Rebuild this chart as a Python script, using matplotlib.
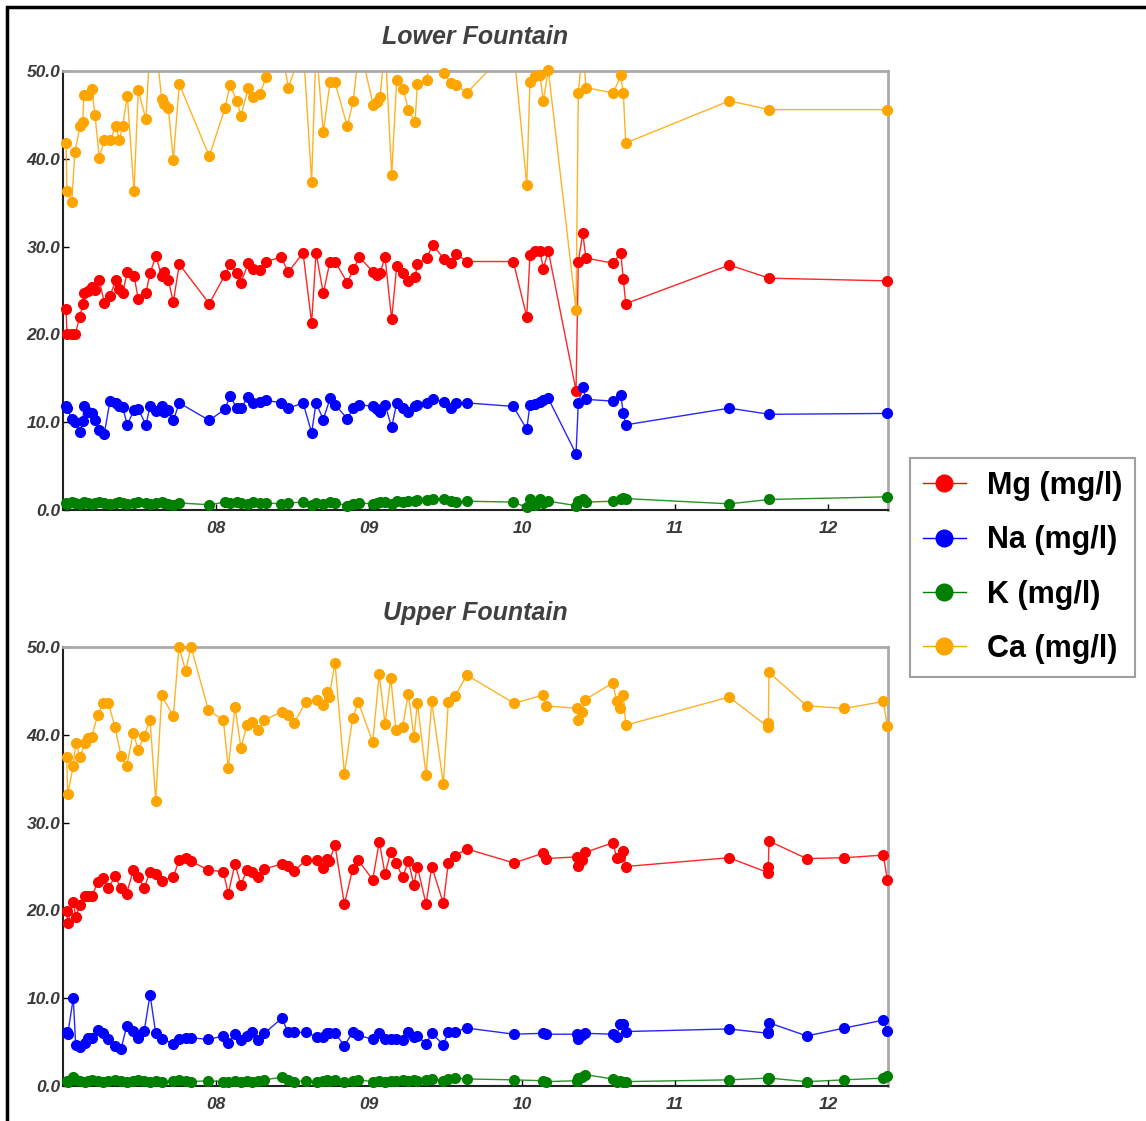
import numpy as np
import matplotlib.pyplot as plt
from matplotlib.patches import Rectangle

plt.rcParams['font.family'] = ['Liberation Sans', 'DejaVu Sans']

# Lower Fountain samples (decimal year, mg/l)
lf_date = [2007.020, 2007.026, 2007.057, 2007.078, 2007.111, 2007.129, 2007.137, 2007.165, 2007.188, 2007.209,
           2007.237, 2007.270, 2007.307, 2007.346, 2007.368, 2007.390, 2007.420, 2007.464, 2007.492, 2007.542,
           2007.569, 2007.608, 2007.645, 2007.660, 2007.688, 2007.721, 2007.760, 2007.956, 2008.059, 2008.092,
           2008.135, 2008.163, 2008.211, 2008.244, 2008.288, 2008.327, 2008.425, 2008.473, 2008.569, 2008.625,
           2008.654, 2008.701, 2008.745, 2008.778, 2008.858, 2008.897, 2008.937, 2009.028, 2009.050, 2009.072,
           2009.105, 2009.148, 2009.181, 2009.224, 2009.257, 2009.301, 2009.316, 2009.377, 2009.416, 2009.490,
           2009.534, 2009.569, 2009.639, 2009.943, 2010.031, 2010.052, 2010.085, 2010.118, 2010.139, 2010.172,
           2010.353, 2010.368, 2010.397, 2010.418, 2010.597, 2010.645, 2010.662, 2010.678, 2011.355, 2011.616,
           2012.385]
lf_mg = [22.9, 20.0, 20.0, 20.0, 22.0, 23.5, 24.7, 24.9, 25.4, 25.1,
         26.2, 23.6, 24.4, 26.2, 25.2, 24.7, 27.1, 26.7, 24.0, 24.7,
         27.0, 28.9, 26.6, 27.1, 26.2, 23.7, 28.0, 23.5, 26.8, 28.0,
         27.0, 25.9, 28.1, 27.4, 27.3, 28.3, 28.8, 27.1, 29.3, 21.3,
         29.3, 24.7, 28.3, 28.3, 25.9, 27.4, 28.8, 27.1, 26.8, 27.0,
         28.8, 21.7, 27.8, 27.0, 26.1, 26.5, 28.0, 28.7, 30.2, 28.6,
         28.1, 29.2, 28.3, 28.3, 22.0, 29.0, 29.5, 29.5, 27.5, 29.5,
         13.6, 28.3, 31.5, 28.7, 28.1, 29.3, 26.3, 23.5, 27.9, 26.4,
         26.1]
lf_na = [11.8, 11.6, 10.4, 10.0, 8.9, 10.1, 11.8, 11.2, 11.0, 10.3,
         9.1, 8.7, 12.4, 12.2, 11.8, 11.7, 9.7, 11.4, 11.5, 9.7,
         11.8, 11.3, 11.8, 11.2, 11.4, 10.2, 12.2, 10.2, 11.5, 13.0,
         11.6, 11.6, 12.9, 12.2, 12.3, 12.5, 12.2, 11.6, 12.2, 8.8,
         12.2, 10.3, 12.7, 12.0, 10.4, 11.6, 12.0, 11.8, 11.5, 11.2,
         12.0, 9.4, 12.2, 11.6, 11.2, 11.8, 12.0, 12.2, 12.6, 12.3,
         11.6, 12.2, 12.2, 11.8, 9.2, 12.0, 12.1, 12.3, 12.5, 12.7,
         6.4, 12.2, 14.0, 12.6, 12.4, 13.1, 11.1, 9.7, 11.6, 10.9,
         11.0]
lf_k = [0.8, 0.7, 0.9, 0.8, 0.7, 0.8, 0.9, 0.8, 0.7, 0.8,
        0.9, 0.8, 0.7, 0.8, 0.9, 0.8, 0.7, 0.8, 0.9, 0.8,
        0.7, 0.8, 0.9, 0.8, 0.7, 0.6, 0.8, 0.6, 0.9, 0.8,
        0.9, 0.8, 0.7, 0.9, 0.8, 0.8, 0.7, 0.8, 0.9, 0.6,
        0.8, 0.7, 0.9, 0.8, 0.5, 0.7, 0.8, 0.7, 0.8, 0.9,
        0.9, 0.7, 1.0, 0.9, 1.0, 1.0, 1.1, 1.1, 1.2, 1.3,
        1.0, 0.9, 1.0, 0.9, 0.3, 1.2, 0.6, 1.3, 0.8, 1.0,
        0.5, 1.0, 1.2, 0.9, 1.0, 1.2, 1.4, 1.3, 0.7, 1.2,
        1.5]
lf_ca = [41.8, 36.3, 35.1, 40.8, 43.7, 44.2, 47.3, 47.3, 48.0, 45.0,
         40.1, 42.1, 42.1, 43.7, 42.1, 43.7, 47.2, 36.3, 47.8, 44.5,
         53.0, 53.0, 46.8, 46.2, 45.8, 39.9, 48.5, 40.3, 45.8, 48.4,
         46.6, 44.9, 48.1, 47.0, 47.4, 49.3, 53.0, 48.1, 53.0, 37.4,
         53.0, 43.0, 48.7, 48.7, 43.7, 46.6, 53.0, 46.1, 46.5, 47.0,
         53.0, 38.2, 49.0, 47.9, 45.6, 44.2, 48.5, 49.0, 53.0, 49.8,
         48.6, 48.4, 47.5, 53.0, 37.0, 48.8, 49.4, 49.5, 46.6, 50.1,
         22.8, 47.5, 53.0, 48.1, 47.5, 49.5, 47.5, 41.8, 46.6, 45.6,
         45.6]

# Upper Fountain samples
uf_date = [2007.024, 2007.031, 2007.067, 2007.083, 2007.111, 2007.144, 2007.165, 2007.188, 2007.227, 2007.263,
           2007.296, 2007.340, 2007.379, 2007.416, 2007.459, 2007.492, 2007.531, 2007.569, 2007.606, 2007.645,
           2007.721, 2007.758, 2007.802, 2007.837, 2007.950, 2008.048, 2008.080, 2008.124, 2008.163, 2008.201,
           2008.237, 2008.276, 2008.316, 2008.429, 2008.473, 2008.512, 2008.586, 2008.658, 2008.701, 2008.724,
           2008.739, 2008.778, 2008.839, 2008.893, 2008.930, 2009.024, 2009.067, 2009.105, 2009.142, 2009.176,
           2009.220, 2009.257, 2009.294, 2009.316, 2009.373, 2009.410, 2009.486, 2009.518, 2009.562, 2009.639,
           2009.948, 2010.135, 2010.157, 2010.361, 2010.368, 2010.390, 2010.412, 2010.593, 2010.619, 2010.641,
           2010.662, 2010.678, 2011.353, 2011.608, 2011.610, 2011.614, 2011.861, 2012.107, 2012.361, 2012.388]
uf_mg = [19.9, 18.6, 21.0, 19.3, 20.6, 21.6, 21.6, 21.6, 23.2, 23.7,
         22.5, 23.9, 22.5, 21.9, 24.6, 23.8, 22.6, 24.4, 24.2, 23.4,
         23.8, 25.7, 26.0, 25.6, 24.6, 24.4, 21.9, 25.3, 22.9, 24.6,
         24.4, 23.8, 24.7, 25.3, 25.1, 24.5, 25.7, 25.7, 24.8, 25.9,
         25.6, 27.4, 20.7, 24.7, 25.7, 23.5, 27.8, 24.1, 26.7, 25.4,
         23.8, 25.6, 22.9, 25.0, 20.7, 25.0, 20.8, 25.4, 26.2, 27.0,
         25.4, 26.5, 25.9, 26.1, 25.1, 25.7, 26.6, 27.7, 26.0, 26.1,
         26.8, 25.0, 26.0, 24.3, 25.0, 27.9, 25.9, 26.0, 26.3, 23.5]
uf_na = [6.1, 5.9, 10.0, 4.7, 4.4, 4.9, 5.5, 5.5, 6.4, 6.0,
         5.4, 4.5, 4.2, 6.8, 6.3, 5.5, 6.3, 10.4, 6.0, 5.4,
         4.8, 5.4, 5.5, 5.5, 5.3, 5.7, 4.9, 5.9, 5.2, 5.7,
         6.2, 5.2, 6.0, 7.7, 6.1, 6.1, 6.1, 5.6, 5.6, 6.0,
         6.0, 6.0, 4.6, 6.1, 5.8, 5.3, 6.0, 5.4, 5.4, 5.4,
         5.2, 6.1, 5.6, 5.7, 4.8, 6.0, 4.7, 6.1, 6.2, 6.6,
         5.9, 6.0, 5.9, 5.9, 5.3, 5.8, 6.0, 5.9, 5.6, 7.1,
         7.1, 6.2, 6.5, 6.0, 6.2, 7.2, 5.7, 6.6, 7.5, 6.3]
uf_k = [0.6, 0.5, 1.0, 0.7, 0.6, 0.5, 0.6, 0.7, 0.6, 0.5,
        0.6, 0.7, 0.6, 0.5, 0.6, 0.7, 0.6, 0.5, 0.6, 0.5,
        0.6, 0.7, 0.6, 0.5, 0.6, 0.5, 0.4, 0.6, 0.5, 0.6,
        0.5, 0.6, 0.7, 1.0, 0.7, 0.5, 0.6, 0.5, 0.6, 0.7,
        0.6, 0.7, 0.5, 0.6, 0.7, 0.5, 0.6, 0.5, 0.6, 0.6,
        0.7, 0.6, 0.7, 0.6, 0.7, 0.8, 0.6, 0.8, 0.9, 0.8,
        0.7, 0.6, 0.5, 0.6, 0.9, 1.0, 1.3, 0.8, 0.5, 0.6,
        0.4, 0.5, 0.7, 0.9, 0.8, 0.9, 0.5, 0.7, 0.9, 1.1]
uf_ca = [37.5, 33.3, 36.4, 39.1, 37.5, 39.1, 39.6, 39.8, 42.3, 43.6,
         43.6, 40.9, 37.6, 36.4, 40.2, 38.3, 39.9, 41.7, 32.5, 44.5,
         42.1, 50.0, 47.3, 50.0, 42.8, 41.7, 36.2, 43.2, 38.5, 41.1,
         41.5, 40.5, 41.7, 42.6, 42.3, 41.4, 43.7, 44.0, 43.4, 44.9,
         44.3, 48.2, 35.5, 41.9, 43.7, 39.2, 46.9, 41.2, 46.5, 40.5,
         40.9, 44.7, 39.7, 43.6, 35.4, 43.8, 34.4, 43.7, 44.4, 46.8,
         43.6, 44.5, 43.3, 43.0, 41.7, 42.6, 44.0, 45.9, 43.8, 43.0,
         44.5, 41.1, 44.3, 40.9, 41.3, 47.1, 43.3, 43.0, 43.8, 41.0]

labels = ['Mg (mg/l)', 'Na (mg/l)', 'K (mg/l)', 'Ca (mg/l)']
colors = ['red', 'blue', 'green', 'orange']
year_ticks = [2008, 2009, 2010, 2011, 2012]
year_labels = ['08', '09', '10', '11', '12']

W, H = 1146, 1121
fig = plt.figure(figsize=(W / 100, H / 100), dpi=100)
ax1 = fig.add_axes([63 / W, 1 - 510 / H, 825 / W, 439 / H])
ax2 = fig.add_axes([63 / W, 1 - 1086 / H, 825 / W, 439 / H])

panels = [(ax1, 'Lower Fountain', lf_date, [lf_mg, lf_na, lf_k, lf_ca]),
          (ax2, 'Upper Fountain', uf_date, [uf_mg, uf_na, uf_k, uf_ca])]

for ax, title, dates, vals in panels:
    d = np.array(dates)
    for v, c, lab in zip(vals, colors, labels):
        v = np.array(v)
        ax.plot(d, v, '-', color=c, lw=1.0, alpha=0.85)
        ok = v <= 50.5
        ax.plot(d[ok], v[ok], 'o', color=c, ms=7, clip_on=False, zorder=3)
        ax.plot([], [], '-o', color=c, lw=1.0, ms=12, label=lab)
    ax.set_xlim(2007.0, 2012.392)
    ax.set_ylim(0, 50)
    ax.set_yticks([0, 10, 20, 30, 40, 50])
    ax.set_yticklabels(['%.1f' % t for t in [0, 10, 20, 30, 40, 50]])
    ax.set_xticks(year_ticks)
    ax.set_xticklabels(year_labels)
    ax.tick_params(direction='in', length=4, width=1, labelsize=12.5, labelcolor='#3a3a3a')
    for t in ax.get_xticklabels() + ax.get_yticklabels():
        t.set_style('italic')
        t.set_fontweight('bold')
    ax.tick_params(axis='y', pad=2)
    ax.tick_params(axis='x', pad=8)
    for s in ['left', 'bottom']:
        ax.spines[s].set_color('#222222')
        ax.spines[s].set_linewidth(1.5)
    for s in ['top', 'right']:
        ax.spines[s].set_color('#aaaaaa')
        ax.spines[s].set_linewidth(2)
    ax.text(0.5, 1 + 34 / 439, title, transform=ax.transAxes, ha='center', va='center',
            fontsize=18, style='italic', fontweight='bold', color='#404040')

h, l = ax1.get_legend_handles_labels()
leg = fig.legend(h, l, loc='upper left', bbox_to_anchor=(910 / W, 1 - 458 / H),
                 prop={'weight': 'bold', 'size': 22}, frameon=True, fancybox=False,
                 edgecolor='#888888', handlelength=1.4, labelspacing=0.8, borderpad=0.42,
                 borderaxespad=0, handletextpad=0.7)
leg.get_frame().set_linewidth(1.5)

fig.patches.append(Rectangle((7 / W, -0.02), 1.05, 1 - 7 / H + 0.02, transform=fig.transFigure,
                             fill=False, edgecolor='black', lw=2.5))

fig.savefig('out.png', dpi=100)
